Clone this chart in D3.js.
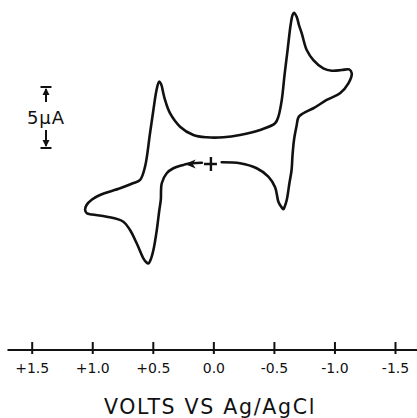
<!DOCTYPE html>
<html><head><meta charset="utf-8">
<script src="https://cdn.jsdelivr.net/npm/d3@7"></script>
<style>body{margin:0;background:#fff}svg{display:block}</style>
</head><body>
<svg id="c" width="417" height="418"></svg>
<script>
// Potential (V vs Ag/AgCl), in scan order starting at the arrow
const potential = [0.095,0.220,0.248,0.330,0.385,0.426,0.434,0.446,0.467,0.495,0.519,0.537,0.556,0.578,0.633,0.688,0.743,0.880,1.002,1.045,1.059,1.047,1.002,0.936,0.770,0.659,0.605,0.564,0.523,0.495,0.469,0.448,0.432,0.413,0.399,0.358,0.275,0.165,0.054,-0.083,-0.220,-0.386,-0.510,-0.537,-0.565,-0.588,-0.613,-0.638,-0.654,-0.666,-0.688,-0.707,-0.730,-0.771,-0.826,-0.908,-0.978,-1.060,-1.121,-1.143,-1.115,-1.046,-0.936,-0.826,-0.743,-0.704,-0.687,-0.666,-0.654,-0.646,-0.628,-0.606,-0.588,-0.578,-0.559,-0.537,-0.510,-0.454,-0.358,-0.220,-0.069];
// Current (µA)
const current = [0.10,0.00,-0.08,-0.35,-0.76,-1.58,-2.95,-3.77,-5.41,-7.05,-7.87,-8.16,-8.03,-7.73,-6.50,-5.41,-4.73,-4.32,-4.14,-4.04,-3.77,-3.36,-2.91,-2.54,-1.99,-1.56,-1.31,-0.22,2.52,4.43,6.07,6.75,6.56,5.80,5.25,4.16,3.06,2.38,2.19,2.19,2.38,2.79,3.34,3.88,5.25,7.30,9.34,11.39,12.21,12.40,12.07,11.39,10.71,9.34,8.52,7.84,7.65,7.70,7.75,7.43,6.61,5.80,5.25,4.57,4.16,3.85,3.11,1.97,0.74,-0.49,-1.58,-2.95,-3.52,-3.71,-3.48,-3.09,-1.91,-1.04,-0.35,0.06,0.14];
const tickValues = [1.5,1.0,0.5,0.0,-0.5,-1.0,-1.5];
const tickLabels = ["+1.5","+1.0","+0.5","0.0","-0.5","-1.0","-1.5"];
const axisTitle = "VOLTS VS Ag/AgCl";
const scaleBarValue = 5;      // µA
const scaleBarLabel = "5µA";
const startPoint = {E: 0.02, I: 0};

const svg = d3.select("#c");
const x = d3.scaleLinear().domain([1.5,-1.5]).range([31.7,395]);
const y = d3.scaleLinear().domain([-9,13]).range([164+9*12.2,164-13*12.2]);
const ink = "#111";

const pts = potential.map((e,i)=>[e,current[i]]);
const line = d3.line().x(d=>x(d[0])).y(d=>y(d[1])).curve(d3.curveCatmullRom.alpha(0.5));
svg.append("path").attr("d",line(pts)).attr("fill","none").attr("stroke",ink)
  .attr("stroke-width",2.6).attr("stroke-linejoin","round").attr("stroke-linecap","round");

// arrow head at the start of the scan (pointing toward positive potential)
const ax = x(potential[1]), ay = y(current[1]);
svg.append("path").attr("d",`M${ax-2},${ay} L${ax+9},${ay-4.5} L${ax+6},${ay} L${ax+9},${ay+4.5} Z`).attr("fill",ink);
// start marker "+"
const sx = x(startPoint.E), sy = y(startPoint.I);
svg.append("path").attr("d",`M${sx-7},${sy} H${sx+6} M${sx},${sy-7} V${sy+7}`)
  .attr("stroke",ink).attr("stroke-width",2.4).attr("fill","none");

// x axis
const axisY = 350;
const gAxis = svg.append("g").attr("transform",`translate(0,${axisY})`);
gAxis.append("line").attr("x1",x(1.7)).attr("x2",x(-1.72)).attr("y1",0).attr("y2",0)
  .attr("stroke",ink).attr("stroke-width",2.2);
const axis = d3.axisBottom(x).tickValues(tickValues).tickFormat((d,i)=>tickLabels[i]).tickSize(4).tickPadding(0);
const ga = gAxis.append("g").call(axis);
ga.select(".domain").remove();
ga.selectAll(".tick line").attr("y1",-8).attr("y2",4).attr("stroke",ink).attr("stroke-width",2);
ga.selectAll(".tick text").attr("y",23).attr("dy",0).attr("fill",ink)
  .style("font-family","DejaVu Sans, sans-serif").style("font-size","14px");

svg.append("text").attr("x",210).attr("y",414).attr("text-anchor","middle")
  .style("font-family","DejaVu Sans, sans-serif").style("font-size","20.5px").style("letter-spacing","1.7px")
  .attr("fill",ink).text(axisTitle);

// scale bar
const bx = 46, barTop = y(6.31), barBot = y(6.31 - scaleBarValue);
const sb = svg.append("g").attr("stroke",ink).attr("stroke-width",2).attr("fill","none");
sb.append("line").attr("x1",bx-5.5).attr("x2",bx+5.5).attr("y1",barTop).attr("y2",barTop);
sb.append("line").attr("x1",bx-5.5).attr("x2",bx+5.5).attr("y1",barBot).attr("y2",barBot);
sb.append("line").attr("x1",bx).attr("x2",bx).attr("y1",barTop+2).attr("y2",barTop+15);
sb.append("line").attr("x1",bx).attr("x2",bx).attr("y1",barBot-18).attr("y2",barBot-2);
svg.append("path").attr("d",`M${bx},${barTop+1} L${bx-3.5},${barTop+8} L${bx+3.5},${barTop+8} Z`).attr("fill",ink);
svg.append("path").attr("d",`M${bx},${barBot-1} L${bx-3.5},${barBot-8} L${bx+3.5},${barBot-8} Z`).attr("fill",ink);
svg.append("text").attr("x",bx).attr("y",(barTop+barBot)/2+6.5).attr("text-anchor","middle")
  .style("font-family","DejaVu Sans, sans-serif").style("font-size","18px").style("letter-spacing","1px")
  .attr("fill",ink).text(scaleBarLabel);
</script>
</body></html>
